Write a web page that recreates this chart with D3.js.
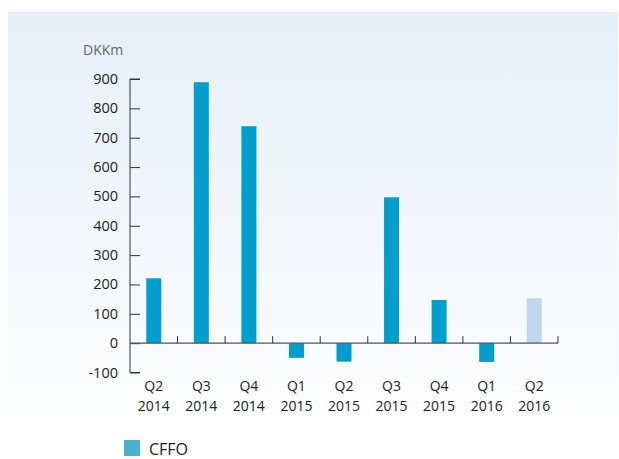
<!DOCTYPE html>
<html>
<head>
<meta charset="utf-8">
<script src="https://cdn.jsdelivr.net/npm/d3@7"></script>
<style>
  body { margin: 0; background: #fff; }
  svg { display: block; font-family: "Open Sans", "Noto Sans", sans-serif; }
</style>
</head>
<body>
<div id="chartArea"></div>
<script>
var quarters = ["Q2", "Q3", "Q4", "Q1", "Q2", "Q3", "Q4", "Q1", "Q2"];
var years = ["2014", "2014", "2014", "2015", "2015", "2015", "2015", "2016", "2016"];
var cffo = [221, 889, 739, -50, -63, 497, 147, -64, 153];
var estimate = [false, false, false, false, false, false, false, false, true];
var yTicks = [-100, 0, 100, 200, 300, 400, 500, 600, 700, 800, 900];

var width = 619, height = 459;
var margin = {top: 79, left: 130, right: 61, bottom: 86.5};

var svg = d3.select('#chartArea').append('svg')
    .attr("width", width)
    .attr("height", height);

// background panel with a soft vertical fade
var grad = svg.append("defs").append("linearGradient")
    .attr("id", "bg").attr("x1", 0).attr("y1", 0).attr("x2", 0).attr("y2", 1);
grad.append("stop").attr("offset", "0%").attr("stop-color", "#e6eef8");
grad.append("stop").attr("offset", "100%").attr("stop-color", "#fdfeff");
svg.append("rect")
    .attr("x", 8).attr("y", 12)
    .attr("width", 610).attr("height", 403)
    .attr("fill", "url(#bg)");

var data = quarters.map(function(q, i) {
    return {key: i, q: q, year: years[i], value: cffo[i], est: estimate[i]};
});

var band = d3.scaleBand()
    .domain(data.map(function(d) { return d.key; }))
    .range([margin.left, width - margin.right]);
var yscale = d3.scaleLinear().domain([-100, 900])
    .range([height - margin.bottom, margin.top]);

// bars
svg.append("g").selectAll("rect").data(data).enter().append("rect")
    .attr("x", function(d) { return band(d.key) + band.bandwidth() / 2 - 7.5; })
    .attr("width", 15)
    .attr("y", function(d) { return yscale(Math.max(0, d.value)); })
    .attr("height", function(d) { return Math.abs(yscale(d.value) - yscale(0)); })
    .attr("fill", function(d) { return d.est ? "#bdd7ee" : "#009ecd"; });

// y axis, ticks pointing inward
var yAxis = svg.append("g")
    .attr("transform", "translate(" + margin.left + ",0)")
    .call(d3.axisRight(yscale).tickValues(yTicks).tickSize(10).tickFormat(""));
yAxis.select(".domain").attr("stroke", "#333").attr("d", "M10," + yscale(900) + "H0V" + yscale(-100) + "H10");
yAxis.selectAll(".tick line").attr("stroke", "#333");

svg.append("g").selectAll("text").data(yTicks).enter().append("text")
    .attr("x", 118)
    .attr("y", function(d) { return yscale(d) + 5; })
    .attr("text-anchor", "end")
    .style("font-size", "14.5px")
    .attr("fill", "#222")
    .text(function(d) { return d; });

// zero line with ticks between categories
var xAxis = svg.append("g")
    .attr("transform", "translate(0," + yscale(0) + ")");
xAxis.append("line")
    .attr("x1", margin.left).attr("x2", width - margin.right)
    .attr("stroke", "#555").attr("stroke-width", 1.2);
xAxis.selectAll("line.tk").data(data).enter().append("line")
    .attr("class", "tk")
    .attr("x1", function(d) { return band(d.key) + band.bandwidth(); })
    .attr("x2", function(d) { return band(d.key) + band.bandwidth(); })
    .attr("y1", 0).attr("y2", -7)
    .attr("stroke", "#333");

// category labels
var labels = svg.append("g").selectAll("text").data(data).enter().append("text")
    .attr("text-anchor", "middle")
    .style("font-size", "14px")
    .attr("fill", "#222");
labels.append("tspan")
    .attr("x", function(d) { return band(d.key) + band.bandwidth() / 2; })
    .attr("y", 391)
    .text(function(d) { return d.q; });
labels.append("tspan")
    .attr("x", function(d) { return band(d.key) + band.bandwidth() / 2; })
    .attr("y", 411)
    .text(function(d) { return d.year; });

// unit label
svg.append("text")
    .attr("x", 83).attr("y", 55)
    .style("font-size", "14px")
    .attr("fill", "#666")
    .text("DKKm");

// legend
svg.append("rect")
    .attr("x", 124).attr("y", 440)
    .attr("width", 16).attr("height", 16)
    .attr("fill", "#4bafd0");
svg.append("text")
    .attr("x", 149).attr("y", 455)
    .style("font-size", "16px")
    .attr("fill", "#222")
    .text("CFFO");
</script>
</body>
</html>
